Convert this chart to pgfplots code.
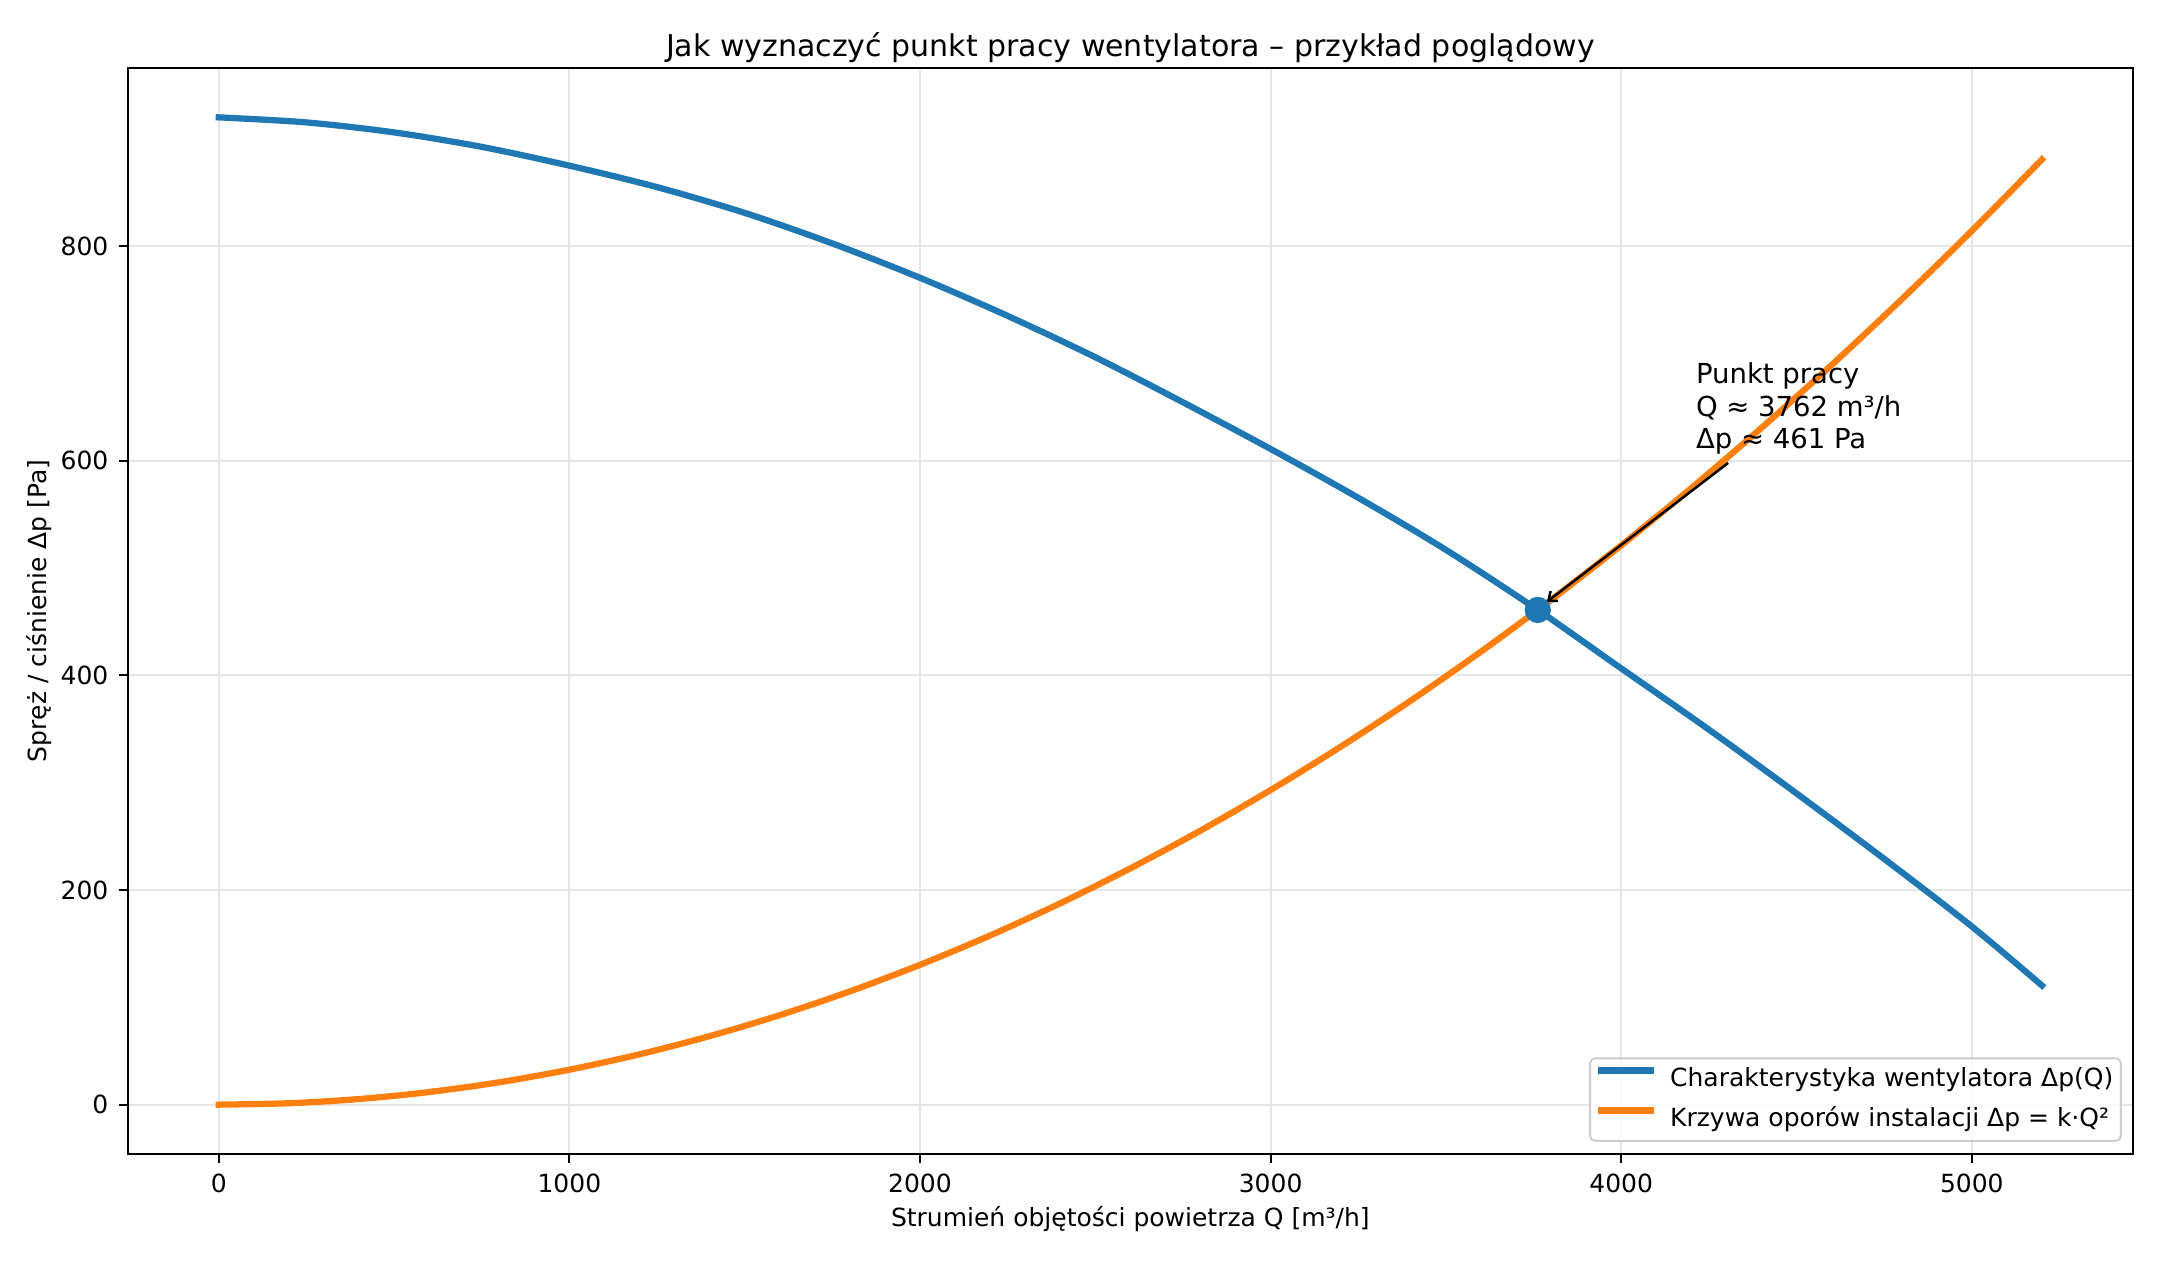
\documentclass[border=0pt]{standalone}
\usepackage{fontspec}
\setmainfont{DejaVu Sans}
\usepackage{pgfplots}
\pgfplotsset{compat=1.18}
\usetikzlibrary{arrows.meta}
\definecolor{tabblue}{HTML}{1F77B4}
\definecolor{taborange}{HTML}{FF7F0E}
\definecolor{gridc}{RGB}{230,230,230}
\definecolor{legedge}{HTML}{CCCCCC}
\begin{document}
\begin{tikzpicture}
\path[use as bounding box] (0,0) rectangle (864pt,504pt);
\begin{axis}[
  at={(51.04pt,42.4pt)}, anchor=south west,
  scale only axis, width=802.2pt, height=434.4pt,
  xmin=-260, xmax=5460, ymin=-46, ymax=966,
  clip=false,
  xtick={0,1000,2000,3000,4000,5000}, ytick={0,200,400,600,800},
  tick pos=left, tick align=outside,
  major tick length=3.5pt,
  every tick/.style={black, line width=0.8pt},
  axis line style={line width=0.8pt},
  grid=major, grid style={gridc, line width=0.8pt},
  /pgf/number format/assume math mode=true,
  /pgf/number format/1000 sep={},
  tick label style={font=\fontsize{10}{12}\selectfont, inner sep=0pt},
  xticklabel style={anchor=north, yshift=-4.4pt},
  yticklabel style={anchor=east, xshift=-4pt},
  xlabel={Strumień objętości powietrza Q [m³/h]},
  xlabel style={font=\fontsize{10}{12}\selectfont, at={(axis description cs:0.5,-0.0663)}, anchor=base, inner sep=0pt},
  ylabel={Spręż / ciśnienie Δp [Pa]},
  ylabel style={font=\fontsize{10}{12}\selectfont, at={(axis description cs:-0.0404,0.5)}, anchor=base, inner sep=0pt},
  legend cell align=left,
  legend style={at={(axis description cs:1,0)}, anchor=south east, xshift=-4.5pt, yshift=4.9pt,
    draw=legedge, line width=0.8pt, fill=white, fill opacity=0.8, draw opacity=1, text opacity=1,
    rounded corners=2pt, inner xsep=3pt, inner ysep=3.5pt, row sep=6pt, column sep=6.5pt,
    font=\fontsize{10}{12}\selectfont,
    nodes={inner sep=0pt, text height=7.6pt, text depth=2.4pt}},
  legend image code/.code={\draw[#1, line cap=rect] (0pt,3.6pt) -- (20pt,3.6pt);},
]
\addplot[tabblue, line width=2.5pt, line cap=rect, line join=round, smooth] coordinates {
(0,920) (250,915.3) (500,906) (750,892.5) (1000,875) (1250,855) (1500,831) (1750,802.5)
(2000,770.5) (2250,735) (2500,696.5) (2750,654.5) (3000,611) (3250,565.5) (3500,517)
(3762,461) (4000,406.5) (4250,349.5) (4500,290) (4750,229) (5000,166) (5200,111)
};
\addlegendentry{Charakterystyka wentylatora Δp(Q)}
\addplot[taborange, line width=2.5pt, line cap=rect, line join=round, smooth] coordinates {
(0,0) (200,1.30) (400,5.21) (600,11.73) (800,20.85) (1000,32.57) (1200,46.91) (1400,63.84)
(1600,83.39) (1800,105.54) (2000,130.29) (2200,157.65) (2400,187.62) (2600,220.19)
(2800,255.37) (3000,293.16) (3200,333.55) (3400,376.55) (3600,422.15) (3800,470.36)
(4000,521.17) (4200,574.59) (4400,630.61) (4600,689.24) (4800,750.48) (5000,814.33) (5200,880.77)
};
\addlegendentry{Krzywa oporów instalacji Δp = k·Q²}
\addplot[only marks, mark=*, mark size=5pt, tabblue, line width=0.5pt, forget plot] coordinates {(3762,461)};
\draw[black, line width=1pt, -{Straight Barb[length=3pt,width=5pt]}] (axis cs:4305,598) -- (axis cs:3788,468.6);
\node[anchor=base west, inner sep=0pt, font=\fontsize{11}{13.2}\selectfont] at (axis cs:4212,672) {Punkt pracy};
\node[anchor=base west, inner sep=0pt, font=\fontsize{11}{13.2}\selectfont] at (axis cs:4212,641) {Q ≈ 3762 m³/h};
\node[anchor=base west, inner sep=0pt, font=\fontsize{11}{13.2}\selectfont] at (axis cs:4212,611.5) {Δp ≈ 461 Pa};
\node[anchor=base, inner sep=0pt, font=\fontsize{12}{14}\selectfont] at (axis description cs:0.5,1.01105) {Jak wyznaczyć punkt pracy wentylatora – przykład poglądowy};
\end{axis}
\end{tikzpicture}
\end{document}
